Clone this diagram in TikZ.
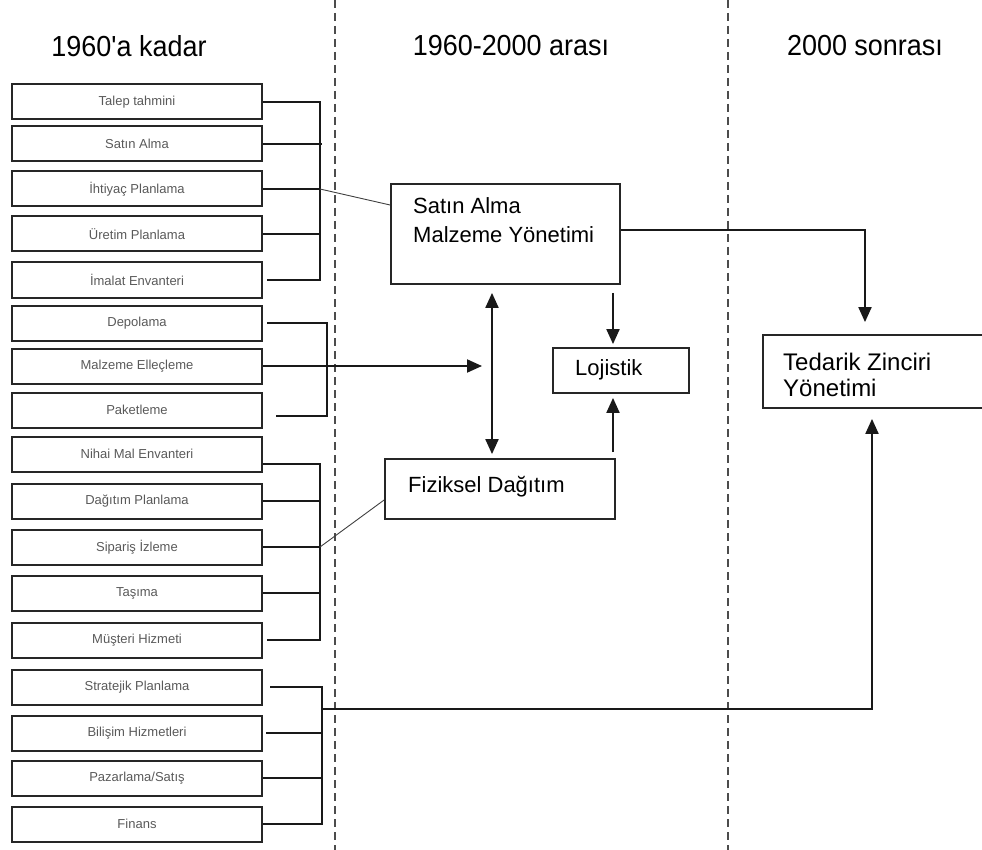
\documentclass[tikz,border=0pt]{standalone}
\usepackage{fontspec}
\setmainfont{Liberation Sans}
\newfontfamily\titlef[FakeStretch=0.93]{Liberation Sans}
\usetikzlibrary{arrows.meta}
\begin{document}
\begin{tikzpicture}[x=1pt,y=-1pt,
  lbox/.style={draw=black!85, line width=2pt, minimum width=250pt, minimum height=35pt, inner sep=0pt, font=\fontsize{13}{15}\selectfont, text=black!65},
  mbox/.style={draw=black!85, line width=1.8pt, inner sep=0pt},
  conn/.style={line width=2pt, draw=black!90},
  thinln/.style={line width=0.9pt, draw=black!75},
  arr/.style={conn, -{Triangle[width=13pt,length=15pt]}},
  darr/.style={conn, {Triangle[width=13pt,length=15pt]}-{Triangle[width=13pt,length=15pt]}},
  vsep/.style={line width=1.5pt, draw=black!70, dash pattern=on 8pt off 5pt},
  ttl/.style={font=\titlef\fontsize{29}{32}\selectfont, inner sep=0pt},
  mtxt/.style={font=\fontsize{22}{29}\selectfont, inner sep=0pt, align=left, anchor=west},
]
\useasboundingbox (0,0) rectangle (982,850);

% period separators
\draw[vsep] (335,0) -- (335,850);
\draw[vsep] (728,0) -- (728,850);

% titles
\node[ttl] (h1) at (129,46) {1960'a kadar};
\node[ttl] (h2) at (511,46) {1960-2000 arası};
\node[ttl] (h3) at (865,46) {2000 sonrası};

% left boxes
\node[lbox] (t1)  at (137,102) {Talep tahmini};
\node[lbox] (t2)  at (137,144) {Satın Alma};
\node[lbox] (t3)  at (137,189) {İhtiyaç Planlama};
\node[lbox] (t4)  at (137,234) {Üretim Planlama};
\node[lbox] (t5)  at (137,280) {İmalat Envanteri};
\node[lbox] (t6)  at (137,323) {Depolama};
\node[lbox] (t7)  at (137,366) {Malzeme Elleçleme};
\node[lbox] (t8)  at (137,410) {Paketleme};
\node[lbox] (t9)  at (137,454) {Nihai Mal Envanteri};
\node[lbox] (t10) at (137,501) {Dağıtım Planlama};
\node[lbox] (t11) at (137,547) {Sipariş İzleme};
\node[lbox] (t12) at (137,593) {Taşıma};
\node[lbox] (t13) at (137,640) {Müşteri Hizmeti};
\node[lbox] (t14) at (137,687) {Stratejik Planlama};
\node[lbox] (t15) at (137,733) {Bilişim Hizmetleri};
\node[lbox] (t16) at (137,778) {Pazarlama/Satış};
\node[lbox] (t17) at (137,824) {Finans};

% middle and right boxes
\node[mbox, minimum width=229pt, minimum height=100pt] (samy) at (505.5,234) {};
\node[mtxt] (samyt) at (413,220) {Satın Alma\\Malzeme Yönetimi};
\node[mbox, minimum width=136pt, minimum height=45pt] (loj) at (621,370.5) {};
\node[mtxt] (lojt) at (575,370) {Lojistik};
\node[mbox, minimum width=230pt, minimum height=60pt] (fd) at (500,489) {};
\node[mtxt] (fdt) at (408,487) {Fiziksel Dağıtım};
\node[mbox, minimum width=227pt, minimum height=73pt] (sc) at (876.5,371.5) {};
\node[mtxt, font=\fontsize{24}{26}\selectfont] (sct) at (783,375) {Tedarik Zinciri\\Yönetimi};

% bracket spines
\coordinate (g1) at (320,0);
\coordinate (g2) at (327,0);
\coordinate (g3) at (320,0);
\coordinate (g4) at (322,0);
\coordinate (me) at (482,0);
\coordinate (j4) at (322,709);

% group 1
\draw[conn] (t1.east) -| (g1 |- t5.east) -- ([xshift=4pt]t5.east);
\draw[conn] (t2.east) -- ([xshift=2pt]g1 |- t2.east);
\draw[conn] (t3.east) -- (g1 |- t3.east);
\draw[conn] (t4.east) -- (g1 |- t4.east);
\draw[thinln] (g1 |- t3.east) -- ([yshift=29pt]samy.west);

% group 2
\coordinate (p8) at ([xshift=13pt,yshift=-6pt]t8.east);
\draw[conn] ([xshift=4pt]t6.east) -| (g2 |- p8) -- (p8);
\draw[arr] (t7.east) -- (t7.east -| me);

% group 3
\coordinate (p9) at ([yshift=-10pt]t9.east);
\draw[conn] (p9) -| (g3 |- t13.east) -- ([xshift=4pt]t13.east);
\draw[conn] (t10.east) -- (g3 |- t10.east);
\draw[conn] (t11.east) -- (g3 |- t11.east);
\draw[conn] (t12.east) -- (g3 |- t12.east);
\draw[thinln] (g3 |- t11.east) -- ([yshift=-11pt]fd.west);

% group 4
\draw[conn] ([xshift=7pt]t14.east) -| (g4 |- t17.east) -- (t17.east);
\draw[conn] ([xshift=3pt]t15.east) -- (g4 |- t15.east);
\draw[conn] (t16.east) -- (g4 |- t16.east);
\draw[arr] (j4) -| ([xshift=-4.5pt,yshift=-10pt]sc.south);

% middle arrows
\draw[darr] ([xshift=-13.5pt,yshift=-8pt]samy.south) -- ([xshift=-8pt,yshift=4pt]fd.north);
\draw[arr] ([xshift=107.5pt,yshift=-8pt]samy.south) -- ([xshift=-8pt,yshift=3pt]loj.north);
\draw[arr] ([xshift=113pt,yshift=6pt]fd.north) -- ([xshift=-8pt,yshift=-4pt]loj.south);
\draw[arr] ([yshift=4pt]samy.east) -| ([xshift=-11.5pt,yshift=12pt]sc.north);
\end{tikzpicture}
\end{document}
